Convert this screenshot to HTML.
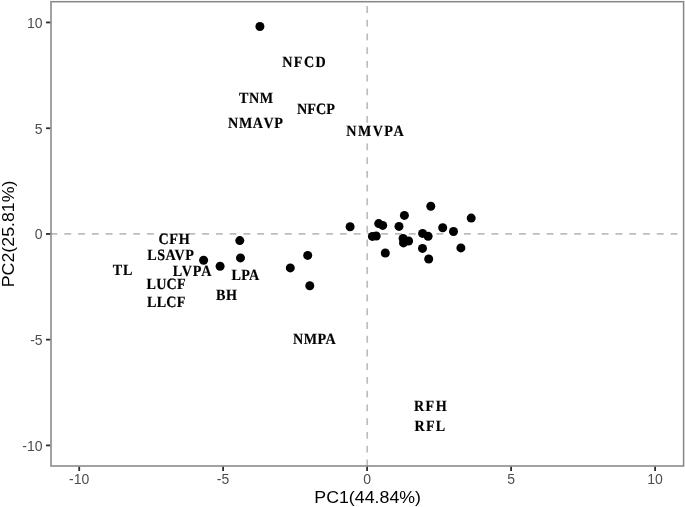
<!DOCTYPE html><html><head><meta charset="utf-8"><style>html,body{margin:0;padding:0;background:#fff;width:685px;height:507px;overflow:hidden}svg{display:block;will-change:transform}text{font-family:"Liberation Sans",sans-serif}.lb{font-family:"Liberation Serif",serif;font-weight:bold;font-size:15.7px;fill:#000;stroke:#000;stroke-width:0.2px;text-rendering:geometricPrecision}.nk{font-kerning:none}</style></head><body>
<svg width="685" height="507" viewBox="0 0 685 507">
<rect width="685" height="507" fill="#fff"/>
<rect x="51.0" y="1.7" width="632.6" height="464.3" fill="#fff"/>
<line x1="50.5" y1="233.9" x2="683.6" y2="233.9" stroke="#bdbdbd" stroke-width="1.7" stroke-dasharray="6.89 6.89"/>
<line x1="367.2" y1="466.3" x2="367.2" y2="1.7" stroke="#bdbdbd" stroke-width="1.7" stroke-dasharray="6.87 6.87"/>
<text class="lb" style="letter-spacing:1.609px" transform="translate(304.68,67.00) scale(0.9000,1)" text-anchor="middle">NFCD</text>
<text class="lb" style="letter-spacing:0.625px" transform="translate(256.29,103.00) scale(0.9000,1)" text-anchor="middle">TNM</text>
<text class="lb" style="letter-spacing:0.135px" transform="translate(315.97,114.00) scale(0.9000,1)" text-anchor="middle">NFCP</text>
<text class="lb nk" style="letter-spacing:0.645px" transform="translate(255.83,128.00) scale(0.9000,1)" text-anchor="middle">NMAVP</text>
<text class="lb" style="letter-spacing:1.593px" transform="translate(375.69,136.00) scale(0.9000,1)" text-anchor="middle">NMVPA</text>
<text class="lb" style="letter-spacing:0.776px" transform="translate(174.41,244.00) scale(0.9000,1)" text-anchor="middle">CFH</text>
<text class="lb" style="letter-spacing:0.569px" transform="translate(170.78,260.00) scale(0.9000,1)" text-anchor="middle">LSAVP</text>
<text class="lb" style="letter-spacing:1.028px" transform="translate(123.04,275.00) scale(0.9000,1)" text-anchor="middle">TL</text>
<text class="lb" style="letter-spacing:0.937px" transform="translate(192.56,276.00) scale(0.9000,1)" text-anchor="middle">LVPA</text>
<text class="lb" style="letter-spacing:0.359px" transform="translate(245.53,280.00) scale(0.9000,1)" text-anchor="middle">LPA</text>
<text class="lb" style="letter-spacing:0.228px" transform="translate(166.15,289.00) scale(0.9000,1)" text-anchor="middle">LUCF</text>
<text class="lb" style="letter-spacing:0.623px" transform="translate(226.82,300.00) scale(0.9000,1)" text-anchor="middle">BH</text>
<text class="lb" style="letter-spacing:0.248px" transform="translate(166.27,307.00) scale(0.9000,1)" text-anchor="middle">LLCF</text>
<text class="lb" style="letter-spacing:0.546px" transform="translate(314.68,344.00) scale(0.9000,1)" text-anchor="middle">NMPA</text>
<text class="lb" style="letter-spacing:1.538px" transform="translate(431.01,411.00) scale(0.9000,1)" text-anchor="middle">RFH</text>
<text class="lb" style="letter-spacing:1.444px" transform="translate(430.51,431.00) scale(0.9000,1)" text-anchor="middle">RFL</text>
<circle cx="259.9" cy="26.5" r="4.5" fill="#000"/>
<circle cx="350.1" cy="226.8" r="4.5" fill="#000"/>
<circle cx="378.7" cy="223.6" r="4.5" fill="#000"/>
<circle cx="382.7" cy="225.4" r="4.5" fill="#000"/>
<circle cx="372.4" cy="236.4" r="4.5" fill="#000"/>
<circle cx="376.2" cy="236.0" r="4.5" fill="#000"/>
<circle cx="385.3" cy="253.0" r="4.5" fill="#000"/>
<circle cx="404.4" cy="215.4" r="4.5" fill="#000"/>
<circle cx="399.0" cy="226.4" r="4.5" fill="#000"/>
<circle cx="403.1" cy="238.5" r="4.5" fill="#000"/>
<circle cx="408.6" cy="241.0" r="4.5" fill="#000"/>
<circle cx="403.5" cy="242.9" r="4.5" fill="#000"/>
<circle cx="430.8" cy="206.2" r="4.5" fill="#000"/>
<circle cx="471.2" cy="218.1" r="4.5" fill="#000"/>
<circle cx="442.7" cy="227.7" r="4.5" fill="#000"/>
<circle cx="453.5" cy="231.5" r="4.5" fill="#000"/>
<circle cx="422.6" cy="233.4" r="4.5" fill="#000"/>
<circle cx="428.1" cy="236.3" r="4.5" fill="#000"/>
<circle cx="422.5" cy="248.4" r="4.5" fill="#000"/>
<circle cx="428.7" cy="259.0" r="4.5" fill="#000"/>
<circle cx="460.9" cy="247.9" r="4.5" fill="#000"/>
<circle cx="239.8" cy="240.6" r="4.5" fill="#000"/>
<circle cx="240.5" cy="257.9" r="4.5" fill="#000"/>
<circle cx="203.6" cy="260.2" r="4.5" fill="#000"/>
<circle cx="220.1" cy="266.2" r="4.5" fill="#000"/>
<circle cx="307.7" cy="255.4" r="4.5" fill="#000"/>
<circle cx="290.3" cy="267.9" r="4.5" fill="#000"/>
<circle cx="309.8" cy="285.8" r="4.5" fill="#000"/>
<rect x="51.0" y="1.7" width="632.6" height="464.3" fill="none" stroke="#888" stroke-width="1.55"/>
<line x1="79.2" y1="466.8" x2="79.2" y2="471.0" stroke="#2e2e2e" stroke-width="1.8"/>
<text x="79.2" y="484.3" text-anchor="middle" font-size="14" fill="#4d4d4d">-10</text>
<line x1="223.1" y1="466.8" x2="223.1" y2="471.0" stroke="#2e2e2e" stroke-width="1.8"/>
<text x="223.1" y="484.3" text-anchor="middle" font-size="14" fill="#4d4d4d">-5</text>
<line x1="367.1" y1="466.8" x2="367.1" y2="471.0" stroke="#2e2e2e" stroke-width="1.8"/>
<text x="367.1" y="484.3" text-anchor="middle" font-size="14" fill="#4d4d4d">0</text>
<line x1="511.1" y1="466.8" x2="511.1" y2="471.0" stroke="#2e2e2e" stroke-width="1.8"/>
<text x="511.1" y="484.3" text-anchor="middle" font-size="14" fill="#4d4d4d">5</text>
<line x1="655.1" y1="466.8" x2="655.1" y2="471.0" stroke="#2e2e2e" stroke-width="1.8"/>
<text x="655.1" y="484.3" text-anchor="middle" font-size="14" fill="#4d4d4d">10</text>
<line x1="46.0" y1="22.45" x2="50.2" y2="22.45" stroke="#2e2e2e" stroke-width="1.8"/>
<text x="42.6" y="27.9" text-anchor="end" font-size="14" fill="#4d4d4d">10</text>
<line x1="46.0" y1="128.25" x2="50.2" y2="128.25" stroke="#2e2e2e" stroke-width="1.8"/>
<text x="42.6" y="133.7" text-anchor="end" font-size="14" fill="#4d4d4d">5</text>
<line x1="46.0" y1="233.95" x2="50.2" y2="233.95" stroke="#2e2e2e" stroke-width="1.8"/>
<text x="42.6" y="239.3" text-anchor="end" font-size="14" fill="#4d4d4d">0</text>
<line x1="46.0" y1="339.65" x2="50.2" y2="339.65" stroke="#2e2e2e" stroke-width="1.8"/>
<text x="42.6" y="345.0" text-anchor="end" font-size="14" fill="#4d4d4d">-5</text>
<line x1="46.0" y1="445.4" x2="50.2" y2="445.4" stroke="#2e2e2e" stroke-width="1.8"/>
<text x="42.6" y="450.8" text-anchor="end" font-size="14" fill="#4d4d4d">-10</text>
<text transform="translate(367.65,503.3) scale(1.04,1)" text-anchor="middle" font-size="17.1" fill="#000">PC1(44.84%)</text>
<text transform="translate(13.9,233.9) rotate(-90) scale(1.04,1)" text-anchor="middle" font-size="17.1" fill="#000">PC2(25.81%)</text>
</svg></body></html>
